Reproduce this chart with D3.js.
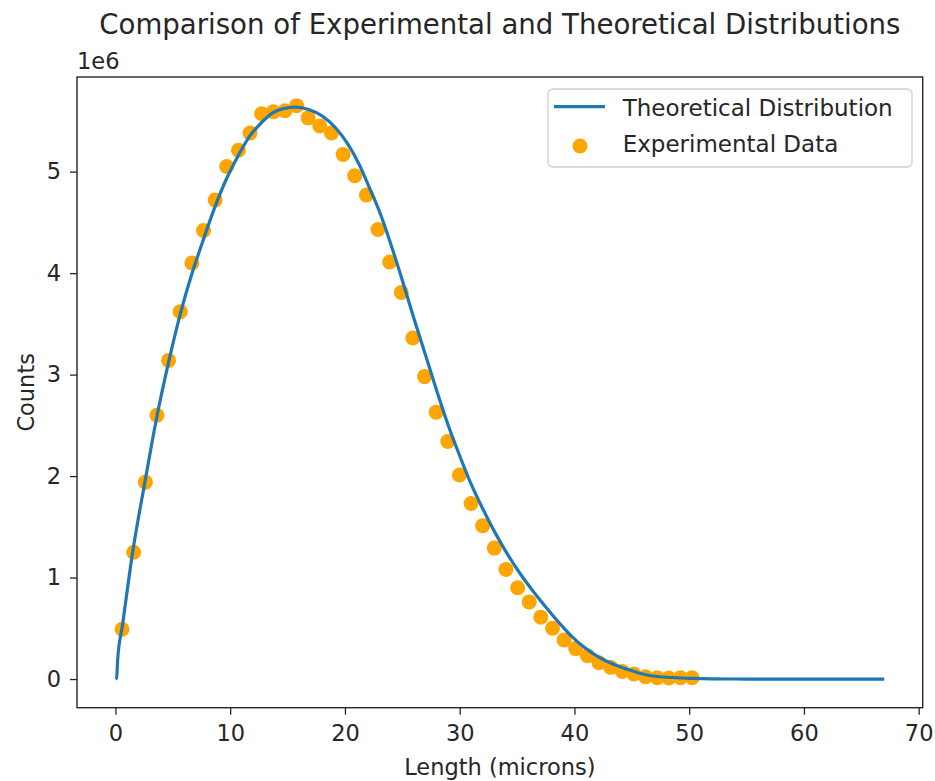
<!DOCTYPE html>
<html>
<head>
<meta charset="utf-8">
<script src="https://cdn.jsdelivr.net/npm/d3@7/dist/d3.min.js"></script>
<style>
  html, body { margin: 0; padding: 0; background: #ffffff; }
  svg { display: block; font-family: "DejaVu Sans", sans-serif; }
</style>
</head>
<body>
<svg id="chart" width="935" height="781"></svg>
<script>
// Experimental histogram: bin centres (microns) and counts
const expLength = [
  0.58, 1.59, 2.61, 3.62, 4.63, 5.65, 6.66, 7.68, 8.69, 9.70,
  10.72, 11.73, 12.74, 13.76, 14.77, 15.79, 16.80, 17.81, 18.83, 19.84,
  20.85, 21.87, 22.88, 23.90, 24.91, 25.92, 26.94, 27.95, 28.96, 29.98,
  30.99, 32.00, 33.02, 34.03, 35.05, 36.06, 37.07, 38.09, 39.10, 40.11,
  41.13, 42.14, 43.16, 44.17, 45.18, 46.20, 47.21, 48.22, 49.24, 50.25
];
const expCounts = [
  490000, 1250000, 1940000, 2600000, 3140000, 3620000, 4100000, 4420000, 4720000, 5050000,
  5210000, 5380000, 5570000, 5590000, 5600000, 5650000, 5530000, 5450000, 5380000, 5170000,
  4960000, 4770000, 4430000, 4110000, 3810000, 3360000, 2980000, 2630000, 2340000, 2010000,
  1730000, 1510000, 1290000, 1080000, 900000, 760000, 610000, 500000, 385000, 300000,
  230000, 160000, 115000, 75000, 50000, 22000, 12000, 10000, 12000, 12000
];

// Theoretical distribution curve (length in microns, counts)
const theoLength = [
  0, 0.1, 0.2, 0.6, 1.5, 2.6, 3.6, 4.65, 5.66, 6.74,
  7.6, 8.6, 9.6, 10.66, 11.7, 12.7, 13.7, 14.6, 15.7, 16.9,
  18.0, 19.2, 20.2, 21.2, 22.1, 23.1, 23.9, 25.0, 26.1, 27.2,
  28.0, 29.0, 30.0, 31.0, 32.0, 33.0, 33.9, 35.2, 36.3, 37.5,
  38.7, 39.85, 41.0, 42.2, 43.3, 44.5, 45.6, 46.8, 48.5, 50.3,
  52.0, 55.0, 67.0
];
const theoCounts = [
  0, 10000, 200000, 520000, 1250000, 1960000, 2580000, 3130000, 3600000, 4020000,
  4310000, 4630000, 4910000, 5150000, 5350000, 5480000, 5580000, 5620000, 5635000, 5610000,
  5550000, 5430000, 5280000, 5080000, 4850000, 4580000, 4320000, 3930000, 3520000, 3130000,
  2840000, 2500000, 2200000, 1920000, 1680000, 1460000, 1280000, 1050000, 880000, 710000,
  550000, 410000, 300000, 210000, 150000, 100000, 60000, 30000, 15000, 6000,
  2000, 0, 0
];

const xTicks = [0, 10, 20, 30, 40, 50, 60, 70];
const yTicks = [0, 1000000, 2000000, 3000000, 4000000, 5000000];

const titleText = "Comparison of Experimental and Theoretical Distributions";
const xLabel = "Length (microns)";
const yLabel = "Counts";
const offsetText = "1e6";
const seriesNames = ["Theoretical Distribution", "Experimental Data"];

const blue = "#1f77b4";
const orange = "#ffa500";
const ink = "#262626";

const svg = d3.select("#chart");
const box = { left: 77, right: 922.7, top: 77, bottom: 707.7 };

// Auto-scaled limits with 5% padding on each side
const allX = theoLength.concat(expLength);
const allY = theoCounts.concat(expCounts);
const [x0, x1] = d3.extent(allX);
const [y0, y1] = d3.extent(allY);
const px = (x1 - x0) * 0.05, py = (y1 - y0) * 0.05;

const x = d3.scaleLinear().domain([x0 - px, x1 + px]).range([box.left, box.right]);
const y = d3.scaleLinear().domain([y0 - py, y1 + py]).range([box.bottom, box.top]);

// Axes
const xAxis = d3.axisBottom(x).tickValues(xTicks).tickSize(7).tickPadding(10).tickFormat(d3.format("d"));
const yAxis = d3.axisLeft(y).tickValues(yTicks).tickSize(7).tickPadding(9).tickFormat(d => d3.format("d")(d / 1e6));

const gx = svg.append("g").attr("transform", `translate(0,${box.bottom})`).call(xAxis);
const gy = svg.append("g").attr("transform", `translate(${box.left},0)`).call(yAxis);
[gx, gy].forEach(g => {
  g.select(".domain").remove();
  g.selectAll(".tick line").attr("stroke", ink).attr("stroke-width", 1.3);
  g.selectAll(".tick text").attr("fill", ink).attr("font-size", 22.5)
    .attr("font-family", "DejaVu Sans, sans-serif");
});

// Scatter of experimental data (drawn beneath the curve)
svg.append("g").selectAll("circle")
  .data(expLength.map((d, i) => [d, expCounts[i]]))
  .join("circle")
  .attr("cx", d => x(d[0]))
  .attr("cy", d => y(d[1]))
  .attr("r", 7.5)
  .attr("fill", orange);

// Theoretical curve
const line = d3.line()
  .x(d => x(d[0]))
  .y(d => y(d[1]))
  .curve(d3.curveMonotoneX);
svg.append("path")
  .datum(theoLength.map((d, i) => [d, theoCounts[i]]))
  .attr("d", line)
  .attr("fill", "none")
  .attr("stroke", blue)
  .attr("stroke-width", 3.2)
  .attr("stroke-linejoin", "round");

// Frame
svg.append("rect")
  .attr("x", box.left).attr("y", box.top)
  .attr("width", box.right - box.left).attr("height", box.bottom - box.top)
  .attr("fill", "none").attr("stroke", ink).attr("stroke-width", 1.4);

// Title and labels
svg.append("text")
  .attr("x", (box.left + box.right) / 2).attr("y", 34)
  .attr("text-anchor", "middle").attr("font-size", 27.6).attr("fill", ink)
  .text(titleText);

svg.append("text")
  .attr("x", box.left).attr("y", 69)
  .attr("font-size", 22.5).attr("fill", ink)
  .text(offsetText);

svg.append("text")
  .attr("x", (box.left + box.right) / 2).attr("y", 775)
  .attr("text-anchor", "middle").attr("font-size", 22.5).attr("fill", ink)
  .text(xLabel);

svg.append("text")
  .attr("transform", `translate(33.5,${(box.top + box.bottom) / 2}) rotate(-90)`)
  .attr("text-anchor", "middle").attr("font-size", 22.5).attr("fill", ink)
  .text(yLabel);

// Legend
const lg = svg.append("g").attr("transform", "translate(548,89)");
lg.append("rect")
  .attr("width", 364).attr("height", 78).attr("rx", 5)
  .attr("fill", "#ffffff").attr("fill-opacity", 0.8)
  .attr("stroke", "#d0d0d0").attr("stroke-width", 1.3);
lg.append("line")
  .attr("x1", 6).attr("x2", 57).attr("y1", 17.7).attr("y2", 17.7)
  .attr("stroke", blue).attr("stroke-width", 3.2);
lg.append("circle")
  .attr("cx", 32).attr("cy", 57).attr("r", 7.5).attr("fill", orange);
lg.selectAll("text.entry")
  .data(seriesNames)
  .join("text")
  .attr("class", "entry")
  .attr("x", 74.7)
  .attr("y", (d, i) => 27 + i * 36)
  .attr("font-size", 23).attr("fill", ink)
  .text(d => d);
</script>
</body>
</html>
